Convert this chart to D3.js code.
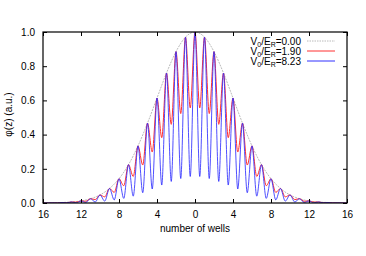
<!DOCTYPE html>
<html>
<head>
<meta charset="utf-8">
<script src="https://cdn.jsdelivr.net/npm/d3@7"></script>
<style>
  body { margin: 0; background: #fff; }
  text { font-family: "Liberation Sans", Arial, sans-serif; }
</style>
</head>
<body>
<svg id="chart" width="366" height="256"></svg>
<script>
// well positions and the peak height at each well (same for all three curves)
const wells = [-16,-15,-14,-13,-12,-11,-10,-9,-8,-7,-6,-5,-4,-3,-2,-1,0,1,2,3,4,5,6,7,8,9,10,11,12,13,14,15,16];
const peakValues = [0.000,0.001,0.003,0.006,0.012,0.025,0.047,0.085,0.142,0.224,0.334,0.467,0.614,0.760,0.885,0.970,1.000,0.970,0.885,0.760,0.614,0.467,0.334,0.224,0.142,0.085,0.047,0.025,0.012,0.006,0.003,0.001,0.000];

// positions between wells and the minimum of each curve there
const halfWells = [-15.5,-14.5,-13.5,-12.5,-11.5,-10.5,-9.5,-8.5,-7.5,-6.5,-5.5,-4.5,-3.5,-2.5,-1.5,-0.5,0.5,1.5,2.5,3.5,4.5,5.5,6.5,7.5,8.5,9.5,10.5,11.5,12.5,13.5,14.5,15.5];
const redTroughs = [0.000,0.001,0.002,0.005,0.010,0.020,0.036,0.062,0.101,0.155,0.222,0.298,0.382,0.460,0.523,0.556,0.556,0.523,0.460,0.382,0.298,0.222,0.155,0.101,0.062,0.036,0.020,0.010,0.005,0.002,0.001,0.000];
const blueTroughs = [0.000,0.000,0.001,0.001,0.003,0.006,0.011,0.018,0.027,0.040,0.060,0.082,0.105,0.126,0.143,0.155,0.155,0.143,0.126,0.105,0.082,0.060,0.040,0.027,0.018,0.011,0.006,0.003,0.001,0.001,0.000,0.000];

const xTicks = [-16,-12,-8,-4,0,4,8,12,16];
const yTicks = [0,0.2,0.4,0.6,0.8,1.0];
const legendLabels = ['0.00','1.90','8.23'];

const svg = d3.select('#chart');
const margin = { top: 32, right: 19, bottom: 53, left: 43 };
const width = 366, height = 256;

const x = d3.scaleLinear().domain([-16, 16]).range([margin.left, width - margin.right]);
const y = d3.scaleLinear().domain([0, 1]).range([height - margin.bottom, margin.top]);

// merge peaks and troughs into one sorted list of points
const buildCurve = troughs => {
  const pts = wells.map((w, i) => [w, peakValues[i]])
    .concat(halfWells.map((h, i) => [h, troughs[i]]));
  return pts.sort((a, b) => a[0] - b[0]);
};

const line = d3.line()
  .x(d => x(d[0]))
  .y(d => y(d[1]))
  .curve(d3.curveMonotoneX);

const plot = svg.append('g');
plot.append('defs').append('clipPath').attr('id', 'clip')
  .append('rect')
  .attr('x', x(-16)).attr('y', y(1))
  .attr('width', x(16) - x(-16)).attr('height', y(0) - y(1));

const curves = plot.append('g').attr('clip-path', 'url(#clip)');

curves.append('path')
  .attr('d', line(wells.map((w, i) => [w, peakValues[i]])))
  .attr('fill', 'none')
  .attr('stroke', '#a8a8a8')
  .attr('stroke-width', 0.8)
  .attr('stroke-dasharray', '2,1');

curves.append('path')
  .attr('d', line(buildCurve(redTroughs)))
  .attr('fill', 'none')
  .attr('stroke', '#ff3030')
  .attr('stroke-width', 1);

curves.append('path')
  .attr('d', line(buildCurve(blueTroughs)))
  .attr('fill', 'none')
  .attr('stroke', '#3030ff')
  .attr('stroke-opacity', 0.85)
  .attr('stroke-width', 1);

// axes, ticks pointing inward, mirrored on top and right
const fontSize = 10;
svg.append('g')
  .attr('transform', `translate(0,${y(0)})`)
  .call(d3.axisBottom(x).tickValues(xTicks).tickSizeInner(-4).tickSizeOuter(0).tickPadding(8)
    .tickFormat(d => Math.abs(d)))
  .call(g => g.select('.domain').remove());

svg.append('g')
  .attr('transform', `translate(0,${y(1)})`)
  .call(d3.axisTop(x).tickValues(xTicks).tickSizeInner(-4).tickSizeOuter(0).tickFormat(''))
  .call(g => g.select('.domain').remove());

svg.append('g')
  .attr('transform', `translate(${x(-16)},0)`)
  .call(d3.axisLeft(y).tickValues(yTicks).tickSizeInner(-4).tickSizeOuter(0).tickPadding(8)
    .tickFormat(d3.format('.1f')))
  .call(g => g.select('.domain').remove());

svg.append('g')
  .attr('transform', `translate(${x(16)},0)`)
  .call(d3.axisRight(y).tickValues(yTicks).tickSizeInner(-4).tickSizeOuter(0).tickFormat(''))
  .call(g => g.select('.domain').remove());

svg.selectAll('.tick text')
  .attr('font-size', fontSize)
  .attr('font-family', '"Liberation Sans", Arial, sans-serif')
  .attr('fill', '#000');
svg.selectAll('.tick line').attr('stroke', '#000');

svg.append('rect')
  .attr('x', x(-16)).attr('y', y(1))
  .attr('width', x(16) - x(-16)).attr('height', y(0) - y(1))
  .attr('fill', 'none')
  .attr('stroke', '#000')
  .attr('stroke-width', 1.2);

// axis titles
svg.append('text')
  .attr('x', x(0)).attr('y', 232)
  .attr('text-anchor', 'middle')
  .attr('font-size', fontSize)
  .text('number of wells');

svg.append('text')
  .attr('transform', `translate(12,${(y(0) + y(1)) / 2 - 3}) rotate(-90)`)
  .attr('text-anchor', 'middle')
  .attr('font-size', fontSize)
  .text('φ(z) (a.u.)');

// legend
const legendStyles = [
  { stroke: '#a8a8a8', dash: '1.5,1', width: 0.8 },
  { stroke: '#ff3030', dash: null, width: 1 },
  { stroke: '#3030ff', dash: null, width: 1 }
];
const legend = svg.append('g');
legendLabels.forEach((lab, i) => {
  const yy = 41 + i * 10;
  const t = legend.append('text')
    .attr('x', 301).attr('y', yy + 3.5)
    .attr('text-anchor', 'end')
    .attr('font-size', fontSize);
  t.append('tspan').text('V');
  t.append('tspan').attr('font-size', 7).attr('dy', 2.5).text('0');
  t.append('tspan').attr('dy', -2.5).text('/E');
  t.append('tspan').attr('font-size', 7).attr('dy', 2.5).text('R');
  t.append('tspan').attr('dy', -2.5).text('=' + lab);
  legend.append('line')
    .attr('x1', 307).attr('x2', 335)
    .attr('y1', yy).attr('y2', yy)
    .attr('stroke', legendStyles[i].stroke)
    .attr('stroke-width', legendStyles[i].width)
    .attr('stroke-dasharray', legendStyles[i].dash);
});
</script>
</body>
</html>
